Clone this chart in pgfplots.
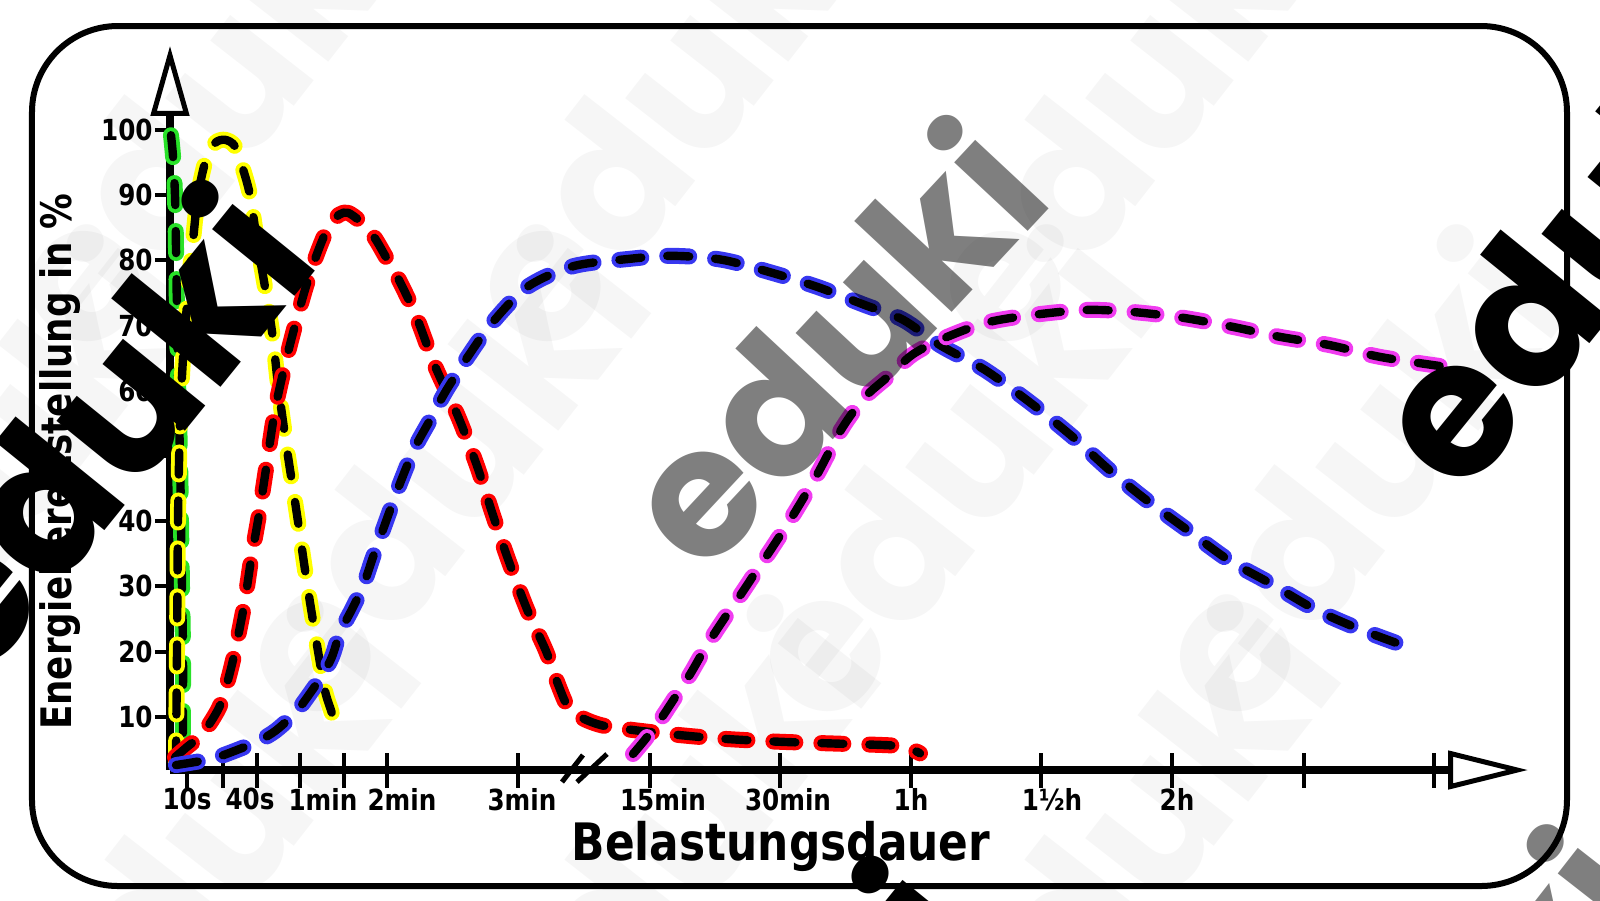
\documentclass[border=0pt]{standalone}
\usepackage{pgfplots}
\pgfplotsset{compat=1.18}
\usepackage{pgfplotstable}
\usepackage{fontspec}
\usetikzlibrary{arrows.meta}
\setmainfont{DejaVu Sans}
\newfontfamily\cfont[FakeStretch=0.85]{DejaVu Sans}
\newfontfamily\wmfont{Poppins}
\definecolor{cgreen}{RGB}{40,225,40}
\definecolor{cyellow}{RGB}{255,255,0}
\definecolor{cred}{RGB}{255,0,0}
\definecolor{cblue}{RGB}{55,55,240}
\definecolor{cmag}{RGB}{240,60,240}

\pgfplotstableread{
x y
171 99.2
173 96
175 90
176 82
177 72
178 62
180 50
181 40
182 30
183 20
183 10
183 3.5
}\greentab
\pgfplotstableread{
x y
176 3
177 20
178 40
180 55
183 65
188 75
193 83
198 90
206 95.5
215 98
225 98.5
235 97.5
243 94
250 90
257 83
266 75
273 68
278 61
287 51
297 41
307 30.5
317 21
325 14
332 10.5
336 7.5
}\yellowtab
\pgfplotstableread{
x y
175 3.8
188 5.5
200 7
212 9.5
222 12.5
233 18.7
244 27
251 34
259 41
266 48
275 57
285 64
295 70
306 76
317 81
328 85
339 87
348 87.3
360 86
374 83.6
386 80.5
397 77.6
416 71.5
435 63.8
458 56.1
477 48.5
492 41.4
508 34.2
527 26.5
546 20.1
558 15
568 11.5
580 10
595 9
612 8.4
660 7.5
717 6.7
776 6.2
835 5.9
893 5.6
910 5.1
920 4.4
}\redtab
\pgfplotstableread{
x y
176 2.6
200 3.2
217 3.8
230 4.5
245 5.4
260 6.4
275 7.8
290 9.8
300 11.5
310 13.6
322 16.3
332 19.2
340 22.9
352 26.5
363 30
373 34.5
383 38.7
398 45
414 51
430 55.5
446 60
469 65.5
492 70.4
527 75.9
573 79.1
627 80.2
672 80.7
722 80.1
772 78.1
818 75.9
864 73.2
903 70.9
940 67
985 63.2
1031 58.1
1073 52.9
1109 47.9
1146 43.3
1187 38.7
1229 34
1270 30.5
1316 26.4
1362 23.3
1415 20.3
}\bluetab
\pgfplotstableread{
x y
633 4.3
645 6.5
660 9.5
673 12.5
690 16.5
707 21
724 25
741 28.8
757 32.5
772 35.9
795 41.4
818 47.4
841 54
864 58.9
889 62.3
912 65.5
940 67.8
985 70.4
1031 71.6
1086 72.4
1132 72.1
1183 71.2
1233 69.8
1279 68.3
1330 67
1380 65.2
1440 63.8
}\magtab

\pgfplotsset{
  dc/.style={draw=#1, smooth, tension=0.5, mark=none, line width=8bp, line cap=round, line join=round, dash pattern=on 11bp off 13bp},
  bc/.style={draw=black, smooth, tension=0.5, mark=none, line width=4.2bp, line cap=round, line join=round, dash pattern=on 11bp off 13bp},
}
\tikzset{
  wm/.style={font=\wmfont\bfseries\fontsize{95bp}{95bp}\selectfont, anchor=base, inner sep=0pt},
}

\begin{document}
\begin{tikzpicture}
\begin{axis}[
  x=0.5bp, y=3.26bp,
  xmin=170, xmax=1528, ymin=1.84, ymax=112.9,
  enlargelimits=false,
  clip=false,
  axis x line=bottom, axis y line=left,
  x axis line style={line width=4bp, -{Triangle[open, length=40bp, width=19bp, line width=2.5bp]}},
  y axis line style={line width=4bp, -{Triangle[open, length=35bp, width=19bp, line width=2.5bp]}},
  major tick length=17.5bp,
  xtick align=center,
  ytick align=outside,
  xtick={187,223,257,300,344,387,518,650,780,911,1041,1172,1304,1434},
  xticklabels={},
  xtick style={line width=2bp, black},
  ytick style={line width=2bp, black, /pgfplots/major tick length=7.5bp},
  extra x ticks={187,250,323,402,522,663,788,911,1052,1177},
  extra x tick labels={10s,40s,1min,2min,3min,15min,30min,1h,1½h,2h},
  extra x tick style={major tick length=0pt},
  ytick={10,20,...,100},
  yticklabels={10,20,30,40,50,60,70,80,90,100},
  /pgf/number format/assume math mode=true,
  tick label style={font=\cfont\bfseries\fontsize{14.5bp}{17bp}\selectfont, inner sep=0pt},
  xticklabel style={anchor=north, yshift=-9bp},
  yticklabel style={anchor=east, xshift=9bp},
]
\coordinate (BL) at (axis cs:0,-18.098);
\coordinate (TR) at (axis cs:1600,119.939);

% faint watermark pattern
\node[wm, rotate=52, opacity=0.035] at (axis cs:260,96.9) {eduki};
\node[wm, rotate=52, opacity=0.035] at (axis cs:720,96.9) {eduki};
\node[wm, rotate=52, opacity=0.035] at (axis cs:1180,96.9) {eduki};
\node[wm, rotate=52, opacity=0.035] at (axis cs:40,40.2) {eduki};
\node[wm, rotate=52, opacity=0.035] at (axis cs:490,40.2) {eduki};
\node[wm, rotate=52, opacity=0.035] at (axis cs:1000,40.2) {eduki};
\node[wm, rotate=52, opacity=0.035] at (axis cs:1410,40.2) {eduki};
\node[wm, rotate=52, opacity=0.035] at (axis cs:260,-16.6) {eduki};
\node[wm, rotate=52, opacity=0.035] at (axis cs:720,-16.6) {eduki};
\node[wm, rotate=52, opacity=0.035] at (axis cs:1180,-16.6) {eduki};

\addplot[dc=cgreen] table {\greentab};
\addplot[bc] table {\greentab};
\addplot[dc=cyellow] table {\yellowtab};
\addplot[bc] table {\yellowtab};
\addplot[dc=cred] table {\redtab};
\addplot[bc] table {\redtab};
\addplot[dc=cblue] table {\bluetab};
\addplot[bc] table {\bluetab};
\addplot[dc=cmag] table {\magtab};
\addplot[bc] table {\magtab};

% axis break
\draw[line width=2.5bp] (axis cs:562,0) -- (axis cs:583,4.14);
\draw[line width=2.5bp] (axis cs:577,0) -- (axis cs:607,4.29);

% labels
\node[rotate=90, anchor=base, inner sep=0pt, font=\cfont\bfseries\fontsize{21bp}{24bp}\selectfont] at (axis cs:72,49.1) {Energiebereitstellung in \%};
\node[anchor=base, inner sep=0pt, font=\cfont\bfseries\fontsize{25.8bp}{28bp}\selectfont] at (axis cs:781,-11.96) {Belastungsdauer};

% frame
\draw[line width=3bp, rounded corners=43bp] (axis cs:32,115.95) rectangle (axis cs:1567,-15.95);

% watermarks
\node[wm, rotate=47, opacity=0.5, font=\wmfont\bfseries\fontsize{90bp}{90bp}\selectfont] at (axis cs:880,60.12) {eduki};
\node[wm, rotate=52, opacity=0.5] at (axis cs:1500,-51.8) {eduki};
\node[wm, rotate=51] at (axis cs:150.4,47.15) {eduki};
\node[wm, rotate=51] at (axis cs:1634.7,75.8) {eduki};
\node[wm, rotate=51] at (axis cs:820.7,-56.55) {eduki};
\end{axis}
\pgfresetboundingbox
\useasboundingbox (BL) rectangle (TR);
\end{tikzpicture}
\end{document}
